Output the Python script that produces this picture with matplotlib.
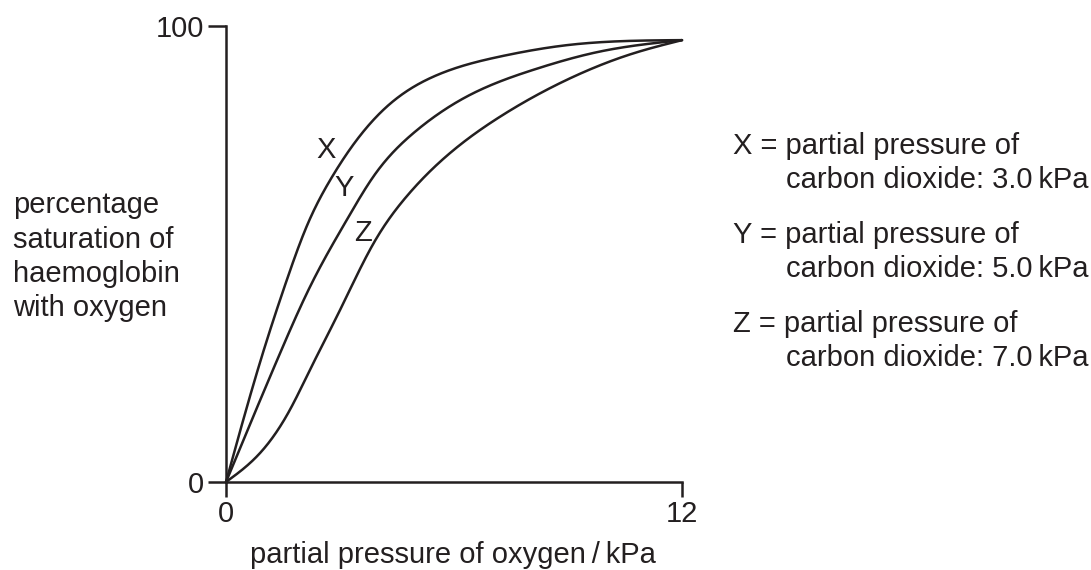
import matplotlib
matplotlib.use("Agg")
import matplotlib.pyplot as plt
import numpy as np

plt.rcParams['font.family'] = ['Liberation Sans', 'DejaVu Sans']

# Data (partial pressure of oxygen / kPa, % saturation)
x_X = [0, 0.89, 1.60, 2.12, 2.74, 3.44, 4.23, 5.46, 7.21, 8.97, 12]
y_X = [0, 26.1, 44.3, 56.0, 66.2, 75.0, 82.3, 88.9, 93.3, 95.8, 96.9]

x_Y = [0, 1.42, 2.21, 3.18, 3.88, 4.93, 6.33, 8.09, 9.84, 12]
y_Y = [0, 28.2, 42.8, 57.5, 67.0, 76.5, 84.5, 90.4, 94.4, 96.9]

x_Z = [0, 0.89, 1.68, 2.21, 3.0, 3.88, 4.75, 5.89, 7.21, 8.97, 10.72, 12]
y_Z = [0, 6.3, 15.8, 24.6, 37.7, 52.3, 62.6, 72.1, 80.1, 88.2, 94.0, 96.9]

curve_labels = ["X", "Y", "Z"]
label_pos = [(2.63, 72.8), (3.1, 64.4), (3.61, 54.5)]

x_ticks = [0, 12]
y_ticks = [0, 100]

legend_keys = ["X", "Y", "Z"]
legend_co2 = ["3.0", "5.0", "7.0"]

FS = 21
col = '#231f20'
lw = 1.8


def spline(xk, yk, xq):
    """Natural cubic spline through the read points."""
    xk = np.asarray(xk, float); yk = np.asarray(yk, float)
    n = len(xk)
    h = np.diff(xk)
    A = np.zeros((n, n)); b = np.zeros(n)
    A[0, 0] = 1; A[-1, -1] = 1
    for i in range(1, n - 1):
        A[i, i - 1] = h[i - 1]
        A[i, i] = 2 * (h[i - 1] + h[i])
        A[i, i + 1] = h[i]
        b[i] = 6 * ((yk[i + 1] - yk[i]) / h[i] - (yk[i] - yk[i - 1]) / h[i - 1])
    M = np.linalg.solve(A, b)
    idx = np.clip(np.searchsorted(xk, xq) - 1, 0, n - 2)
    x0 = xk[idx]; x1 = xk[idx + 1]; hh = h[idx]
    return (M[idx] * (x1 - xq) ** 3 / (6 * hh) + M[idx + 1] * (xq - x0) ** 3 / (6 * hh)
            + (yk[idx] / hh - M[idx] * hh / 6) * (x1 - xq)
            + (yk[idx + 1] / hh - M[idx + 1] * hh / 6) * (xq - x0))


fig = plt.figure(figsize=(10.91, 5.70), dpi=100)
ax = fig.add_axes([226/1091, 1 - 482/570, (682-226)/1091, (482-26)/570])

xq = np.linspace(0, 12, 800)
for xs, ys in [(x_X, y_X), (x_Y, y_Y), (x_Z, y_Z)]:
    ax.plot(xq, spline(xs, ys, xq), color=col, lw=lw, solid_capstyle='round',
            solid_joinstyle='round', clip_on=False)

for lab, (lx, ly) in zip(curve_labels, label_pos):
    ax.text(lx, ly, lab, fontsize=FS, color=col, ha='center', va='center')

ax.set_xlim(0, 12)
ax.set_ylim(0, 100)
ax.spines['top'].set_visible(False)
ax.spines['right'].set_visible(False)
for s in ['left', 'bottom']:
    ax.spines[s].set_linewidth(lw)
    ax.spines[s].set_color(col)
ax.set_xticks(x_ticks)
ax.set_yticks(y_ticks)
ax.set_xticklabels([str(v) for v in x_ticks], fontsize=FS, color=col)
ax.set_yticklabels([str(v) for v in y_ticks], fontsize=FS, color=col)
ax.tick_params(axis='x', length=11, width=lw, color=col, direction='out', pad=2)
ax.tick_params(axis='y', length=13, width=lw, color=col, direction='out', pad=3)
ax.patch.set_visible(False)

fig.text(453/1091, 1 - 563/570, "partial pressure of oxygen\u2009/\u2009kPa", fontsize=FS,
         color=col, ha='center', va='baseline')

ylab_lines = ["percentage", "saturation of", "haemoglobin", "with oxygen"]
for i, line in enumerate(ylab_lines):
    fig.text(13/1091, 1 - (213 + i*34.5)/570, line, fontsize=FS, color=col,
             ha='left', va='baseline')

row_base = [154, 243, 332]
for i, (k, c) in enumerate(zip(legend_keys, legend_co2)):
    fig.text(733/1091, 1 - row_base[i]/570, f"{k} = partial pressure of", fontsize=FS,
             color=col, ha='left', va='baseline')
    fig.text(786/1091, 1 - (row_base[i] + 34)/570, f"carbon dioxide: {c}\u2009kPa",
             fontsize=FS, color=col, ha='left', va='baseline')

fig.savefig("out.png", dpi=100)
